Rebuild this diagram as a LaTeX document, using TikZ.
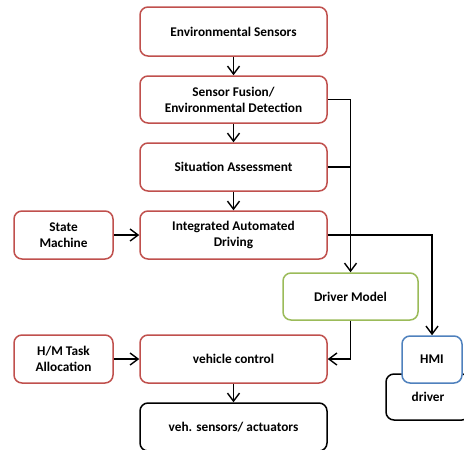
\documentclass[tikz,border=0pt]{standalone}
\usepackage{fontspec}
\setmainfont{Carlito}
\usetikzlibrary{arrows.meta}
\definecolor{boxred}{RGB}{192,80,77}
\definecolor{boxgreen}{RGB}{155,187,89}
\definecolor{boxblue}{RGB}{79,129,189}
\begin{document}
\begin{tikzpicture}[x=1pt,y=-1pt,
  box/.style={draw=boxred, line width=1.5pt, rounded corners=8pt, fill=white, align=center,
    font=\fontsize{13.3}{16}\selectfont\bfseries, inner sep=0pt, minimum width=187pt, minimum height=48pt},
  conn/.style={line width=1.4pt, -{Straight Barb[length=8pt,width=12pt,line width=1.4pt]}},
  plain/.style={line width=1.4pt}]
\useasboundingbox (0,0) rectangle (464,450);
\clip (0,0) rectangle (464,450);
\node[box, minimum height=49pt] (env) at (233.5,31.5) {Environmental Sensors};
\node[box, minimum height=47pt] (fus) at (233.5,99.5) {Sensor Fusion/\\Environmental Detection};
\node[box] (sit) at (233.5,167) {Situation Assessment};
\node[box] (iad) at (233.5,235) {Integrated Automated\\Driving};
\node[box, minimum width=99pt] (sm) at (63.5,235) {State\\Machine};
\node[box, draw=boxgreen, minimum width=135pt, minimum height=47pt] (dm) at (350.5,296.5) {Driver Model};
\node[box] (vc) at (233.5,359) {vehicle control};
\node[box, minimum width=99pt] (hm) at (63.5,359) {H/M Task\\Allocation};
\node[box, draw=black] (vs) at (233.5,427) {veh. sensors/ actuators};
\node[box, draw=black, minimum width=84pt, minimum height=46pt] (drv) at (428,397) {driver};
\node[box, draw=boxblue, minimum width=60pt, minimum height=47pt] (hmi) at (432,359.5) {HMI};
\draw[conn] (env) -- (fus);
\draw[conn] (fus) -- (sit);
\draw[conn] (sit) -- (iad);
\draw[conn] (sm) -- (iad);
\draw[conn] (hm) -- (vc);
\draw[conn] (vc) -- (vs);
\draw[conn] (fus.east) -| (dm.north);
\draw[plain] (sit.east) -- (sit.east -| dm.north);
\draw[conn] (iad.east) -| (hmi.north);
\draw[conn] (dm.south) |- (vc.east);
\end{tikzpicture}
\end{document}
